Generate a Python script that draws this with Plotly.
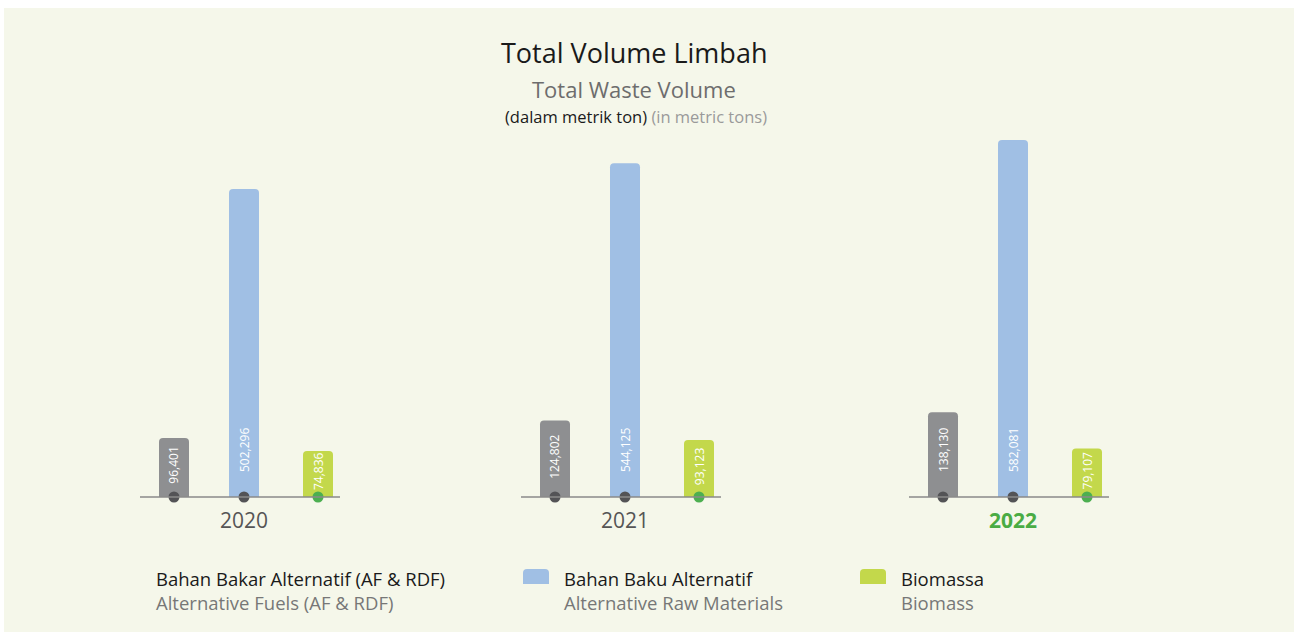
import plotly.graph_objects as go

# ---- data ----
years = ["2020", "2021", "2022"]
af_rdf = [96401, 124802, 138130]          # Bahan Bakar Alternatif (AF & RDF)
raw_materials = [502296, 544125, 582081]  # Bahan Baku Alternatif
biomass = [74836, 93123, 79107]           # Biomassa

series_names_id = ["Bahan Bakar Alternatif (AF & RDF)", "Bahan Baku Alternatif", "Biomassa"]
series_names_en = ["Alternative Fuels (AF & RDF)", "Alternative Raw Materials", "Biomass"]

# ---- styling / layout constants ----
W, H = 1298, 637
FONT = "Open Sans"
BG = "#f5f7ea"
bar_colors = ["#8e8f91", "#a0bfe4", "#c3d84b"]
dot_colors = ["#535356", "#535356", "#4caf50"]
group_centers = [244, 625, 1013]   # horizontal centre of each year group (px)
offsets = [-70, 0, 74]             # bar offset within a group (px)
bar_w = 30
base_px = 497                      # baseline position from top (px)
top_px = 140                       # top of the tallest bar (px)
label_size = 12

series = [af_rdf, raw_materials, biomass]
vmax = max(max(s) for s in series)
k = (base_px - top_px) / vmax      # px per ton
y_lo = -(H - base_px) / k
y_hi = base_px / k


def py(px):
    """Convert a pixel row (from top) to a paper fraction."""
    return 1 - px / H


fig = go.Figure()

shapes = [
    # cream panel
    dict(type="rect", xref="paper", yref="paper", x0=4 / W, x1=1294 / W,
         y0=py(632), y1=py(8), fillcolor=BG, line_width=0, layer="below"),
]

# baseline per year group
for c in group_centers:
    shapes.append(dict(type="line", xref="x", yref="y", x0=c - 104, x1=c + 96,
                       y0=0, y1=0, line=dict(color="#8a8a8a", width=1.5), layer="above"))

annotations = []
for si, vals in enumerate(series):
    xs = [g + offsets[si] for g in group_centers]
    fig.add_trace(go.Bar(
        x=xs, y=vals, width=bar_w,
        marker=dict(color=bar_colors[si], cornerradius=4, line_width=0),
        showlegend=False, hoverinfo="skip",
    ))
    for x, v in zip(xs, vals):
        label = f"{v:,}"
        h = v * k
        n_digits = sum(ch.isdigit() for ch in label)
        tlen = label_size * (0.57 * n_digits + 0.27 * (len(label) - n_digits))
        shift = 24 if h >= tlen + 34 else max(6, (h - tlen) / 2 + 1)
        annotations.append(dict(
            x=x, y=0, xref="x", yref="y", text=label, textangle=-90, showarrow=False,
            xanchor="center", yanchor="bottom", yshift=shift, borderpad=0,
            font=dict(family=FONT, size=label_size, color="white"),
        ))

# dots at the foot of each bar
for si in range(len(series)):
    xs = [g + offsets[si] for g in group_centers]
    fig.add_trace(go.Scatter(
        x=xs, y=[0] * len(xs), mode="markers",
        marker=dict(size=11, color=dot_colors[si], line_width=0),
        showlegend=False, hoverinfo="skip", cliponaxis=False,
    ))

# year labels
for i, (c, yr) in enumerate(zip(group_centers, years)):
    last = i == len(years) - 1
    annotations.append(dict(
        x=c, y=py(520), xref="x", yref="paper", showarrow=False,
        text=f"<b>{yr}</b>" if last else yr, xanchor="center", yanchor="middle",
        font=dict(family=FONT, size=21, color="#4aac44" if last else "#555555"),
    ))

# titles
annotations += [
    dict(x=634 / W, y=py(53), xref="paper", yref="paper", showarrow=False,
         xanchor="center", yanchor="middle",
         text="Total Volume Limbah", font=dict(family=FONT, size=27, color="#1a1a1a")),
    dict(x=634 / W, y=py(89), xref="paper", yref="paper", showarrow=False,
         xanchor="center", yanchor="middle",
         text="Total Waste Volume", font=dict(family=FONT, size=22, color="#6d6d6d")),
    dict(x=636 / W, y=py(117), xref="paper", yref="paper", showarrow=False,
         xanchor="center", yanchor="middle",
         text="(dalam metrik ton) <span style='color:#9a9a9a'>(in metric tons)</span>",
         font=dict(family=FONT, size=16.5, color="#1a1a1a")),
]

# legend: two-line caption (Indonesian / English) with a rounded swatch
legend_text_x = [154, 562, 899]
legend_swatch_x = [None, 523, 860]
for i in range(3):
    annotations.append(dict(
        x=legend_text_x[i] / W, y=py(590), xref="paper", yref="paper", showarrow=False,
        xanchor="left", yanchor="middle", align="left",
        text=f"{series_names_id[i]}<br><span style='color:#777777'>{series_names_en[i]}</span>",
        font=dict(family=FONT, size=18.5, color="#1a1a1a"),
    ))
    sx = legend_swatch_x[i]
    if sx is not None:
        x0, x1, r = sx, sx + 26, 4
        yb, yt = py(584), py(569)
        yr = py(569 + r)
        path = (f"M {x0},{yb:.5f} L {x0},{yr:.5f} Q {x0},{yt:.5f} {x0 + r},{yt:.5f} "
                f"L {x1 - r},{yt:.5f} Q {x1},{yt:.5f} {x1},{yr:.5f} L {x1},{yb:.5f} Z")
        shapes.append(dict(type="path", xref="x", yref="paper", path=path,
                           fillcolor=bar_colors[i], line_width=0))

fig.update_layout(
    width=W, height=H, margin=dict(l=0, r=0, t=0, b=0),
    paper_bgcolor="white", plot_bgcolor="rgba(0,0,0,0)",
    barmode="overlay", shapes=shapes, annotations=annotations,
    xaxis=dict(range=[0, W], visible=False, fixedrange=True),
    yaxis=dict(range=[y_lo, y_hi], visible=False, fixedrange=True),
    font=dict(family=FONT),
)

fig.write_html("out.html", include_plotlyjs=True, config={"displayModeBar": False})
